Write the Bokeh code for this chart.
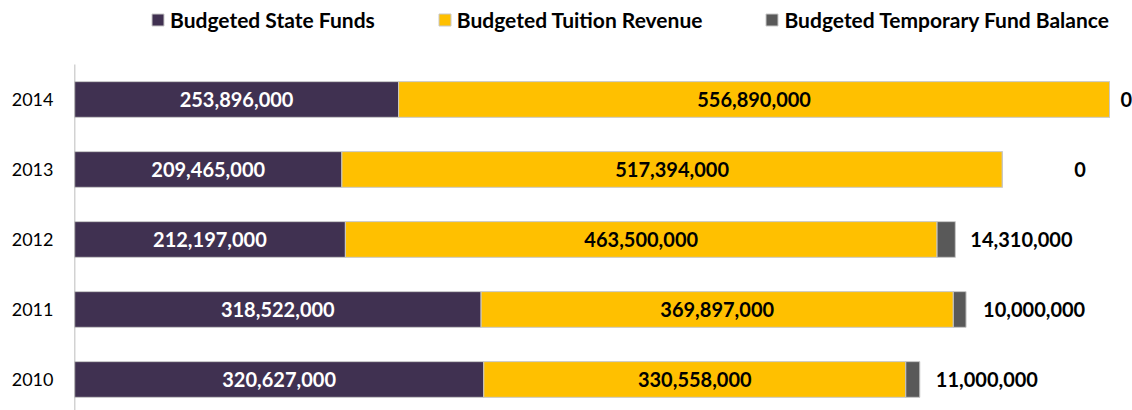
from bokeh.plotting import figure
from bokeh.models import ColumnDataSource, Range1d, FixedTicker
from bokeh.core.properties import value
from bokeh.embed import file_html
from bokeh.resources import INLINE

years = ["2010", "2011", "2012", "2013", "2014"]
state_funds = [320627000, 318522000, 212197000, 209465000, 253896000]
tuition = [330558000, 369897000, 463500000, 517394000, 556890000]
temp_fund = [11000000, 10000000, 14310000, 0, 0]
series_names = ["Budgeted State Funds", "Budgeted Tuition Revenue", "Budgeted Temporary Fund Balance"]
colors = ["#403151", "#FFC000", "#595959"]

FONT = "Lato"
FS = "20px"

y = list(range(len(years)))
totals = [a + b + c for a, b, c in zip(state_funds, tuition, temp_fund)]
fmt = lambda v: f"{v:,}"

src = ColumnDataSource(dict(
    y=y, state=state_funds, tuition=tuition, temp=temp_fund,
    state_mid=[s / 2 for s in state_funds],
    tui_mid=[s + t / 2 for s, t in zip(state_funds, tuition)],
    total=totals,
    state_lbl=[fmt(v) for v in state_funds],
    tui_lbl=[fmt(v) for v in tuition],
    temp_lbl=[fmt(v) for v in temp_fund],
    temp_off=[16, 17, 15, 72, 11],
))

W, H = 1132, 410
p = figure(width=W, height=H, output_backend="svg", toolbar_location=None,
           x_range=Range1d(0, 828.8e6), y_range=Range1d(-0.443, 5.414),
           min_border_left=74, min_border_right=0, min_border_top=0, min_border_bottom=0)

p.hbar_stack(["state", "tuition", "temp"], y="y", height=0.51, color=colors,
             line_color="#C8C8C8", line_width=1, source=src, legend_label=series_names)

p.text(x="state_mid", y="y", text="state_lbl", source=src, text_align="center",
       text_baseline="middle", text_color="white", text_font=value(FONT),
       text_font_size=FS, text_font_style="bold")
p.text(x="tui_mid", y="y", text="tui_lbl", source=src, text_align="center",
       text_baseline="middle", text_color="black", text_font=value(FONT),
       text_font_size=FS, text_font_style="bold")
p.text(x="total", y="y", text="temp_lbl", source=src, x_offset="temp_off",
       text_align="left", text_baseline="middle", text_color="black",
       text_font=value(FONT), text_font_size=FS, text_font_style="bold")

# vertical axis line (stops below the legend area)
p.segment(x0=[0], y0=[-0.443], x1=[0], y1=[4.5], line_color="#A6A6A6", line_width=1.5)

p.xaxis.visible = False
p.xgrid.visible = False
p.ygrid.visible = False
p.outline_line_color = None
yax = p.yaxis[0]
yax.ticker = FixedTicker(ticks=y)
yax.major_label_overrides = {i: yr for i, yr in enumerate(years)}
yax.axis_line_color = None
yax.major_tick_line_color = None
yax.minor_tick_line_color = None
yax.major_label_standoff = 15
yax.major_label_text_font = FONT
yax.major_label_text_font_size = "18px"
yax.major_label_text_color = "black"

lg = p.legend[0]
lg.orientation = "horizontal"
lg.location = (76, 378)
lg.padding = 0
lg.margin = 0
lg.spacing = 62
lg.label_standoff = 5
lg.glyph_width = 15
lg.glyph_height = 15
lg.label_height = 20
lg.border_line_color = None
lg.background_fill_alpha = 0
lg.label_text_font = FONT
lg.label_text_font_size = "21px"
lg.label_text_font_style = "bold"
lg.label_text_color = "black"
lg.label_text_baseline = "middle"

open("out.html", "w").write(file_html(p, INLINE))
